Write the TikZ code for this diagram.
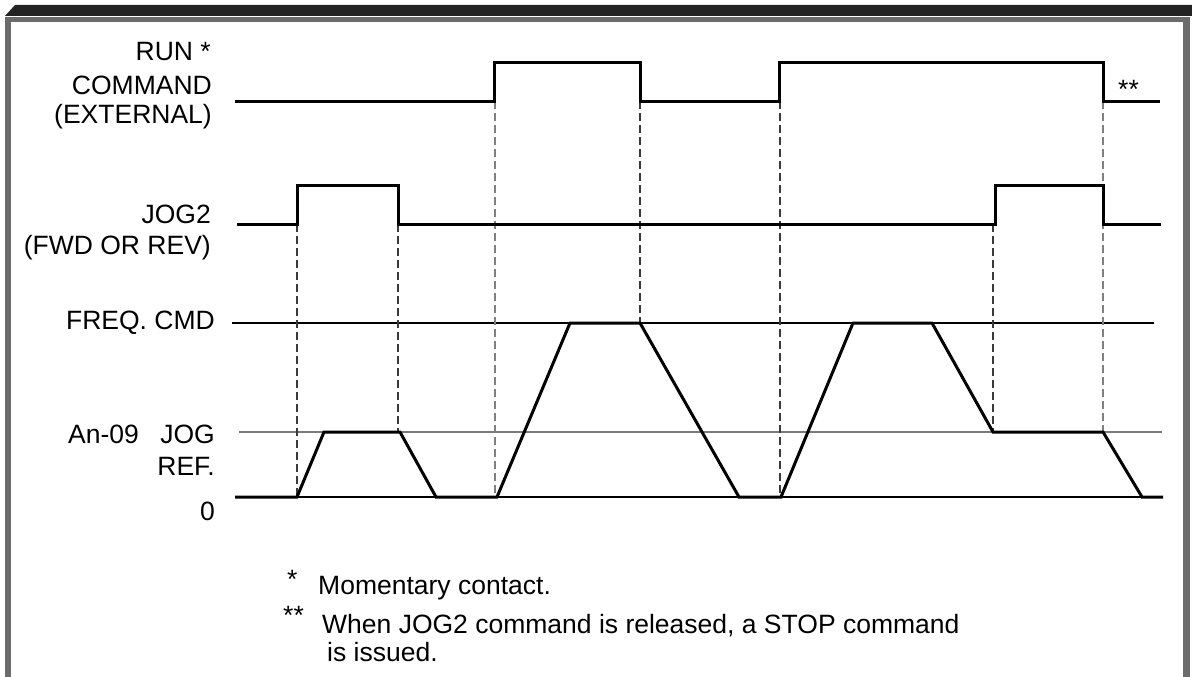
\documentclass[tikz,border=0pt]{standalone}
\usepackage{fontspec}
\setmainfont{Liberation Sans}
\definecolor{framedark}{HTML}{232323}
\definecolor{framegray}{HTML}{6B6B6B}
\definecolor{dashdark}{HTML}{3A3A3A}
\definecolor{dashlight}{HTML}{808080}
\definecolor{refgray}{HTML}{7A7A7A}
\begin{document}
\begin{tikzpicture}[x=1pt,y=-1pt,
  lbl/.style={font=\fontsize{26.5}{30}\selectfont, inner sep=0pt},
  sig/.style={line width=3pt, line join=miter},
  thinref/.style={line width=1.3pt},
  grayref/.style={line width=1.6pt, refgray},
  dsh/.style={line width=1.3pt, dash pattern=on 8pt off 4pt, dashdark},
  dshl/.style={line width=1.3pt, dash pattern=on 8pt off 4pt, dashlight}]
\useasboundingbox (0,0) rectangle (1192,677);
\fill[white] (0,0) rectangle (1192,677);
% frame
\fill[framedark] (5,16) -- (15,5) -- (1192,5) -- (1192,16) -- cycle;
\fill[framegray] (5,17) rectangle (1190,22);
\fill[framegray] (5,17) rectangle (11,677);
\fill[framegray] (1183,17) rectangle (1190,677);
% labels
\node[lbl, anchor=base east] (run) at (211,61) {RUN *};
\node[lbl, anchor=base east] (cmd) at (212,95) {COMMAND};
\node[lbl, anchor=base east] (ext) at (212,123) {(EXTERNAL)};
\node[lbl, anchor=base east] (jog2) at (211,223) {JOG2};
\node[lbl, anchor=base east] (fwd) at (211,254) {(FWD OR REV)};
\node[lbl, anchor=base east] (freq) at (215,329) {FREQ. CMD};
\node[lbl, anchor=base west] (an) at (68,443) {An-09};
\node[lbl, anchor=base east] (jog) at (215,443) {JOG};
\node[lbl, anchor=base east] (ref) at (215,475) {REF.};
\node[lbl, anchor=base east] (zero) at (215,520) {0};
\node[lbl, anchor=base west] (dstar) at (1118,99) {**};
% notes
\node[lbl, anchor=base west] (n1s) at (287,588) {*};
\node[lbl, anchor=base west] (n1) at (318,594) {Momentary contact.};
\node[lbl, anchor=base west] (n2s) at (283,624) {**};
\node[lbl, anchor=base west] (n2) at (322,633) {When JOG2 command is released, a STOP command};
\node[lbl, anchor=base west] (n3) at (327,661) {is issued.};
% reference lines
\draw[thinref] (232,323) -- (1154,323);
\draw[grayref] (239,432) -- (1162,432);
\draw[thinref] (235,497) -- (1163,497);
% dashed verticals
\draw[dsh]  (297,224) -- (297,497);
\draw[dsh]  (398,224) -- (398,432);
\draw[dshl] (495,101) -- (495,497);
\draw[dsh]  (640,101) -- (640,323);
\draw[dsh]  (780,101) -- (780,497);
\draw[dsh]  (993,224) -- (993,432);
\draw[dshl] (1103,101) -- (1103,432);
% signals
\draw[sig] (235,101) -| (494,63) -| (640,101) -| (779,63) -| (1103,101) -- (1160,101);
\draw[sig] (237,224) -| (297,185) -| (398,224) -| (995,185) -| (1103,224) -- (1161,224);
\draw[sig] (235,497) -- (297,497) -- (324,432) -- (400,432) -- (436,497) -- (497,497)
  -- (570,323) -- (640,323) -- (739,497) -- (781,497) -- (853,323) -- (932,323)
  -- (993,432) -- (1103,432) -- (1142,497) -- (1163,497);
\end{tikzpicture}
\end{document}
